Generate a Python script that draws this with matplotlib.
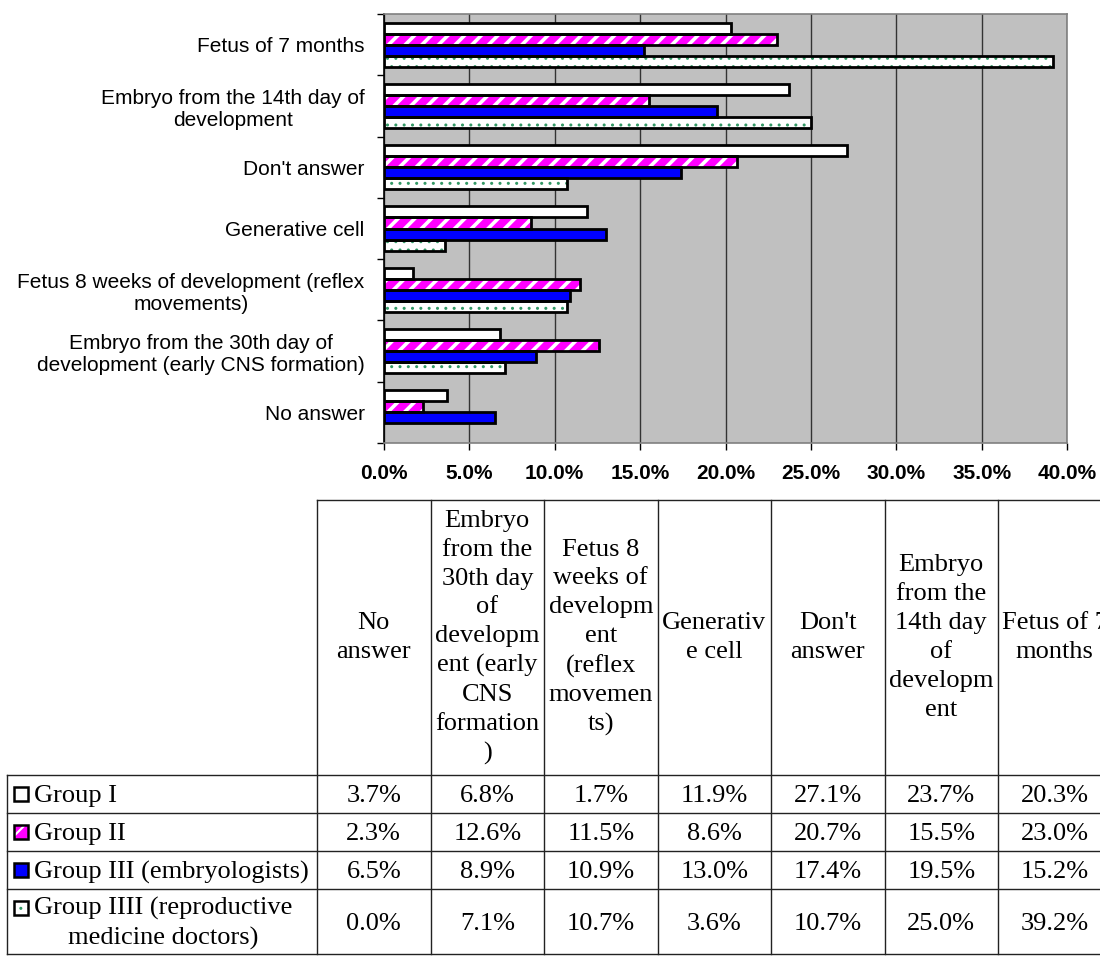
import numpy as np
import matplotlib
matplotlib.use('Agg')
import matplotlib.pyplot as plt
from matplotlib.patches import Rectangle
from matplotlib.lines import Line2D
from matplotlib.ticker import MultipleLocator, FuncFormatter

# categories, bottom to top as drawn on the chart
categories = ['No answer',
              'Embryo from the 30th day of development (early CNS formation)',
              'Fetus 8 weeks of development (reflex movements)',
              'Generative cell',
              "Don't answer",
              'Embryo from the 14th day of development',
              'Fetus of 7 months']
axis_labels = ['No answer',
               'Embryo from the 30th day of\ndevelopment (early CNS formation)',
               'Fetus 8 weeks of development (reflex\nmovements)',
               'Generative cell',
               "Don't answer",
               'Embryo from the 14th day of\ndevelopment',
               'Fetus of 7 months']
header_labels = ['No\nanswer',
                 'Embryo\nfrom the\n30th day\nof\ndevelopm\nent (early\nCNS\nformation\n)',
                 'Fetus 8\nweeks of\ndevelopm\nent\n(reflex\nmovemen\nts)',
                 'Generativ\ne cell',
                 "Don't\nanswer",
                 'Embryo\nfrom the\n14th day\nof\ndevelopm\nent',
                 'Fetus of 7\nmonths']

groups = ['Group I', 'Group II', 'Group III (embryologists)',
          'Group IIII (reproductive\nmedicine doctors)']
group1 = [3.7, 6.8, 1.7, 11.9, 27.1, 23.7, 20.3]
group2 = [2.3, 12.6, 11.5, 8.6, 20.7, 15.5, 23.0]
group3 = [6.5, 8.9, 10.9, 13.0, 17.4, 19.5, 15.2]
group4 = [0.0, 7.1, 10.7, 3.6, 10.7, 25.0, 39.2]

# face, hatch, hatch colour
styles = [('white', None, 'white'),
          ('#FF00FF', '//', 'white'),
          ('#0000FF', None, '#0000FF'),
          ('white', '..', '#339966')]

W, H = 1100, 956
fig = plt.figure(figsize=(W / 100, H / 100), dpi=100)

def fx(x):
    return x / W

def fy(y):
    return 1 - y / H

def draw_bar(ax, y, v, h, st):
    face, hatch, hcol = st
    lw_h = 2.6 if hatch == '//' else 1.0
    with plt.rc_context({'hatch.linewidth': lw_h}):
        b = ax.barh(y, v, height=h, color=face, hatch=hatch, edgecolor=hcol, linewidth=0, zorder=3)
    for p in b:
        if hasattr(p, 'set_hatch_linewidth'):
            p.set_hatch_linewidth(lw_h)
    lws = [2.0 if val > 0 else 0 for val in np.atleast_1d(v)]
    ax.barh(y, v, height=h, fill=False, edgecolor='black', linewidth=lws, zorder=4)

# ---- chart ----
ax = fig.add_axes([fx(384), fy(443), fx(1067) - fx(384), fy(14) - fy(443)])
ax.set_facecolor('#C0C0C0')
data = [group1, group2, group3, group4]
ypos = np.arange(len(categories))
bh = 0.18
for k, vals in enumerate(data):
    draw_bar(ax, ypos + (1.5 - k) * bh, np.array(vals), bh, styles[k])

ax.set_xlim(0, 40)
ax.set_ylim(-0.5, len(categories) - 0.5)
ax.xaxis.set_major_locator(MultipleLocator(5))
ax.xaxis.set_major_formatter(FuncFormatter(lambda v, p: f'{v:.1f}%'))
ax.grid(axis='x', color='#333333', linewidth=1.0, zorder=1)
ax.set_axisbelow(True)
ax.set_yticks(ypos)
ax.set_yticklabels(axis_labels, fontsize=15, family='Liberation Sans', ha='right', multialignment='center')
ax.set_yticks(np.arange(-0.5, len(categories), 1), minor=True)
ax.tick_params(axis='y', which='major', length=0, pad=14)
ax.tick_params(axis='y', which='minor', length=5, direction='out', width=1)
ax.tick_params(axis='x', length=5, direction='out', width=1, pad=10)
for t in ax.get_xticklabels():
    t.set_fontsize(15)
    t.set_fontweight('bold')
    t.set_family('Liberation Sans')
for s in ['top', 'right', 'bottom']:
    ax.spines[s].set_color('#808080')
    ax.spines[s].set_linewidth(1.2)
ax.spines['left'].set_color('black')
ax.spines['left'].set_linewidth(1.2)

# ---- data table ----
col_x = [317 + i * 113.5 for i in range(len(categories) + 1)]
head_top, head_bot = 500, 775
row_y = [775, 813, 851, 889, 954]
lc = '#222222'
tfont = dict(family='Liberation Serif', fontsize=19)

def hline(x0, x1, y):
    fig.add_artist(Line2D([fx(x0), fx(x1)], [fy(y), fy(y)], color=lc, linewidth=1.0))

def vline(x, y0, y1):
    fig.add_artist(Line2D([fx(x), fx(x)], [fy(y0), fy(y1)], color=lc, linewidth=1.0))

hline(col_x[0], W, head_top)
for x in col_x:
    vline(x, head_top, row_y[-1])
vline(7, row_y[0], row_y[-1])
for y in row_y:
    hline(7, W, y)

for i, lab in enumerate(header_labels):
    fig.text(fx((col_x[i] + col_x[i + 1]) / 2), fy((head_top + head_bot) / 2), lab,
             ha='center', va='center', multialignment='center', linespacing=1.4, **tfont)

for k, g in enumerate(groups):
    y0, y1 = row_y[k], row_y[k + 1]
    yc = (y0 + y1) / 2
    sq_y = yc if '\n' not in g else y0 + 19
    face, hatch, hcol = styles[k]
    with plt.rc_context({'hatch.linewidth': 1.5 if hatch == '//' else 1.0}):
        fig.add_artist(Rectangle((fx(14), fy(sq_y + 7)), fx(14), fy(0) - fy(14), transform=fig.transFigure,
                                 facecolor=face, hatch=hatch, edgecolor=hcol, linewidth=0))
    fig.add_artist(Rectangle((fx(14), fy(sq_y + 7)), fx(14), fy(0) - fy(14), transform=fig.transFigure,
                             fill=False, edgecolor='black', linewidth=1.8))
    fig.text(fx(34), fy(yc + 2), g, ha='left', va='center', multialignment='center', linespacing=1.4, **tfont)
    for i, v in enumerate(data[k]):
        fig.text(fx((col_x[i] + col_x[i + 1]) / 2), fy(yc + 2), f'{v:.1f}%', ha='center', va='center', **tfont)

fig.savefig('out.png', dpi=100)
